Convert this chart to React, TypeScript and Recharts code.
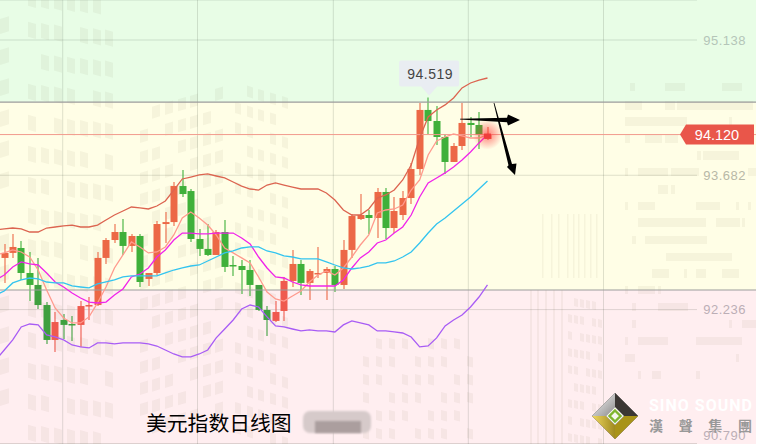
import React from "react";
import { ComposedChart, Bar, Line, XAxis, YAxis, CartesianGrid, ReferenceArea, ReferenceLine, ReferenceDot } from "recharts";

const highs = [92.942,93.050,92.974,92.856,92.792,92.317,92.210,92.189,92.167,92.328,92.371,92.856,93.007,93.157,93.211,93.050,93.050,92.630,93.189,93.286,93.609,93.739,93.534,93.104,93.157,93.093,93.200,92.813,92.770,92.770,92.501,92.274,92.328,92.587,92.878,92.770,92.673,92.910,92.695,92.705,92.985,93.265,93.480,93.308,93.545,93.545,93.448,93.512,93.814,94.460,94.519,94.428,94.126,94.030,94.460,94.309,94.363,94.201];
const lows = [92.523,92.792,92.555,92.328,92.242,91.866,91.780,91.920,91.898,91.834,92.124,92.274,92.727,92.953,92.824,92.856,92.479,92.490,92.608,92.953,93.136,93.448,92.964,92.813,92.813,92.824,92.641,92.598,92.404,92.382,92.221,91.952,92.102,92.114,92.479,92.393,92.339,92.576,92.339,92.425,92.458,92.792,93.200,93.050,93.007,92.996,93.060,93.200,93.373,93.685,94.126,94.008,93.696,93.825,93.954,94.094,93.965,94.062];
const opens = [92.792,92.846,92.899,92.630,92.501,92.285,91.909,92.124,92.081,92.071,92.274,92.285,92.792,92.985,93.071,92.921,93.028,92.566,92.630,93.157,93.178,93.566,93.512,92.996,92.889,92.824,93.071,92.716,92.705,92.662,92.501,92.232,92.114,92.221,92.544,92.727,92.523,92.619,92.630,92.673,92.501,92.878,93.211,93.254,93.222,93.502,93.114,93.254,93.437,93.749,94.385,94.266,94.094,93.825,93.997,94.245,94.223,94.072];
const closes = [92.846,92.910,92.630,92.501,92.285,91.909,92.102,92.071,92.071,92.274,92.285,92.792,92.985,93.071,92.921,93.028,92.533,92.630,93.157,93.178,93.566,93.480,92.996,92.889,92.824,93.071,92.695,92.705,92.662,92.501,92.232,92.124,92.210,92.544,92.727,92.523,92.651,92.630,92.673,92.501,92.878,93.243,93.254,93.222,93.502,93.114,93.297,93.437,93.749,94.385,94.266,94.094,93.825,93.997,94.245,94.223,94.115,94.120];
const upperBand = [93.104,93.114,93.104,93.071,93.071,93.114,93.125,93.136,93.146,93.125,93.125,93.146,93.200,93.254,93.297,93.340,93.330,93.319,93.351,93.405,93.523,93.642,93.663,93.685,93.696,93.674,93.653,93.609,93.566,93.534,93.523,93.577,93.599,93.577,93.555,93.534,93.534,93.534,93.491,93.416,93.308,93.254,93.254,93.319,93.437,93.470,93.523,93.631,93.792,94.083,94.309,94.385,94.439,94.514,94.622,94.675,94.707,94.729];
const ma5 = [92.846,92.878,92.856,92.802,92.662,92.447,92.253,92.146,92.092,92.092,92.157,92.307,92.479,92.684,92.824,92.964,92.910,92.846,92.856,92.910,93.039,93.222,93.286,93.222,93.146,93.039,92.899,92.846,92.792,92.738,92.587,92.425,92.350,92.328,92.382,92.436,92.533,92.608,92.651,92.608,92.684,92.802,92.931,93.039,93.276,93.308,93.319,93.362,93.523,93.631,93.900,94.051,94.094,94.126,94.105,94.083,94.083,94.120];
const ma10 = [92.608,92.695,92.749,92.727,92.716,92.630,92.533,92.479,92.415,92.361,92.317,92.307,92.317,92.393,92.458,92.587,92.619,92.684,92.802,92.878,92.985,93.060,93.060,93.050,93.050,93.060,93.060,93.060,93.007,92.942,92.802,92.684,92.587,92.576,92.533,92.501,92.490,92.490,92.490,92.490,92.555,92.684,92.792,92.856,92.953,92.985,93.060,93.125,93.254,93.448,93.599,93.653,93.707,93.771,93.846,93.932,94.030,94.120];
const ma20 = [92.436,92.523,92.555,92.576,92.566,92.533,92.523,92.523,92.490,92.479,92.469,92.512,92.533,92.555,92.587,92.598,92.598,92.598,92.598,92.630,92.662,92.684,92.705,92.716,92.759,92.802,92.846,92.867,92.899,92.910,92.910,92.867,92.846,92.813,92.802,92.781,92.781,92.781,92.749,92.716,92.684,92.673,92.684,92.705,92.738,92.738,92.759,92.802,92.856,92.953,93.060,93.157,93.222,93.297,93.373,93.448,93.534,93.620];
const lowerBand = [91.801,91.909,92.049,92.081,92.071,91.963,91.941,91.909,91.855,91.834,91.823,91.877,91.877,91.866,91.877,91.877,91.877,91.866,91.844,91.801,91.758,91.726,91.726,91.758,91.801,91.931,92.027,92.124,92.242,92.285,92.264,92.157,92.060,92.049,92.027,92.006,92.017,92.006,92.006,91.995,92.071,92.114,92.092,92.071,92.006,92.006,91.995,91.984,91.941,91.834,91.844,91.931,92.060,92.124,92.178,92.264,92.371,92.501];

// The session just before the first visible candle: its lines run in from the left edge.
const leadIn = { i: -1, upper: 93.093, ma5: 92.824, ma10: 92.555, ma20: 92.393, lower: 91.694 };

const priceTicks = [95.138, 93.682, 92.236, 90.79];
const zoneHigh = 94.47;
const zoneLow = 92.447;
const lastPrice = 94.12;
const peakPrice = 94.519;
const yMin = 90.789;
const yMax = 95.5686;
const slotCount = 90;

const rows = [
  leadIn,
  ...Array.from({ length: slotCount }, (_, i) =>
    i < highs.length
      ? { i, open: opens[i], close: closes[i], high: highs[i], low: lows[i], upper: upperBand[i], ma5: ma5[i], ma10: ma10[i], ma20: ma20[i], lower: lowerBand[i], range: [lows[i], highs[i]] }
      : { i }
  ),
];

const chartMargin = { top: 0, right: -7, bottom: 0, left: -8.46 };

function Candle(props: any) {
  const { x, y, width, height, payload } = props;
  if (payload == null || payload.high == null) return null;
  const k = height / (payload.high - payload.low);
  const top = y + (payload.high - Math.max(payload.open, payload.close)) * k;
  const bot = y + (payload.high - Math.min(payload.open, payload.close)) * k;
  const rising = payload.close >= payload.open;
  const inPink = (payload.open + payload.close) / 2 < zoneLow;
  const c = rising ? (inPink ? "#ef5a4e" : "#ec6846") : inPink ? "#3fa03f" : "#3fb03a";
  const cx = Math.round(x + width / 2);
  return (
    <g>
      <line x1={cx} x2={cx} y1={y} y2={y + height} stroke={c} strokeWidth={1.1} />
      <rect x={cx - 3.5} y={top} width={7} height={Math.max(bot - top, 1.5)} fill={c} />
    </g>
  );
}

function AxisTick(props: any) {
  const { y, payload } = props;
  const fill = payload.value > zoneHigh ? "#b4c5b8" : payload.value > zoneLow ? "#b8b8a6" : "#bcaeb6";
  return (
    <text x={746} y={y} dy={y > 440 ? 8 : 4.5} textAnchor="end" fontSize={13} letterSpacing={0.5} fontFamily="'Liberation Sans', sans-serif" fill={fill}>
      {payload.value.toFixed(3)}
    </text>
  );
}

function Callout(props: any) {
  const { cx, cy } = props;
  const top = cy - 37;
  return (
    <g>
      <path d={`M${cx - 27},${top} h56 a2,2 0 0 1 2,2 v22 a2,2 0 0 1 -2,2 h-20 l-8,9 l-8,-9 h-20 a2,2 0 0 1 -2,-2 v-22 a2,2 0 0 1 2,-2 z`} fill="#e9edf2" />
      <text x={cx + 2} y={top + 18} textAnchor="middle" fontSize={14} letterSpacing={0.5} fontFamily="'Liberation Sans', sans-serif" fill="#444">
        {peakPrice.toFixed(3)}
      </text>
    </g>
  );
}

function PriceTag(props: any) {
  const { cy } = props;
  return (
    <g>
      <path d={`M680,${cy} L686,${cy - 10} H754 V${cy + 10} H686 Z`} fill="#e9564a" />
      <text x={717} y={cy + 5.5} textAnchor="middle" fontSize={14.5} fontFamily="'Liberation Sans', sans-serif" fill="#fff">
        {lastPrice.toFixed(3)}
      </text>
    </g>
  );
}

function Glow(props: any) {
  const { cx, cy } = props;
  return (
    <g>
      <defs>
        <radialGradient id="glow">
          <stop offset="0%" stopColor="#ff2a2a" stopOpacity={0.6} />
          <stop offset="100%" stopColor="#ff2a2a" stopOpacity={0} />
        </radialGradient>
      </defs>
      <circle cx={cx} cy={cy} r={15} fill="url(#glow)" />
      <rect x={cx - 3.5} y={cy - 1} width={7} height={5} fill="#f03c3c" />
    </g>
  );
}

function GridRow(props: any) {
  return <line x1={0} x2={697} y1={props.y1} y2={props.y2} stroke="#40503a" strokeOpacity={0.17} />;
}

// Decorative building watermark behind the chart: [x, y, w, h]
const sideBars = [
  [625,101,17,9],[665,101,10,9],[677,101,76,9],[625,117,62,9],[729,117,3,9],[625,135,5,8],[645,135,17,8],[665,135,13,8],
  [697,151,4,9],[703,151,36,9],[625,168,3,8],[638,168,30,8],[671,168,28,8],[748,168,8,8],[658,185,10,9],[671,185,4,9],
  [625,202,3,8],[638,202,17,8],[696,202,24,8],[736,202,3,8],[748,202,3,8],[638,218,68,9],[716,218,24,9],[742,218,3,9],
  [632,236,4,8],[645,236,62,8],[666,253,66,8],[652,269,17,9],[684,269,3,9],[696,269,10,9],[722,269,17,9],
  [625,286,3,8],[638,286,17,8],[658,286,3,8],[632,303,4,8],[658,303,30,8],[632,320,4,8],[729,320,3,8],[742,320,14,8],
  [625,337,3,8],[638,337,30,8],[696,337,46,8],[625,354,10,8],[736,354,3,8],[638,371,3,8],[652,371,9,8],[696,371,4,8],
  [630,83,5,8],[665,83,20,8],[722,83,20,8],
];
const stripeTop = [542,551,558,567,573,578,584,590,596];
const stripeLow = [530,537,545,553,561];

function Watermark() {
  const shapes: React.ReactNode[] = [];
  const tint = { fill: "#6c5a30", fillOpacity: 0.06 };
  const quad = (x: number, y: number, w: number, h: number, s: number) =>
    shapes.push(<polygon key={shapes.length} points={`${x},${y} ${x + w},${y + s * w} ${x + w},${y + s * w + h} ${x},${y + h}`} {...tint} />);
  const block = (x: number, y: number, w: number, h: number) =>
    shapes.push(<rect key={shapes.length} x={x} y={y} width={w} height={h} {...tint} />);
  const leftCols = [0, 28, 41, 54, 67, 80, 93, 105];
  leftCols.forEach((x, c) => {
    for (let r = 0; r < 15; r++) {
      if ((c * 3 + r * 2) % 7 === 0) continue;
      quad(x, -12 + 31 * r + 0.1 * x, x === 0 ? 9 : 8, 15, x === 0 ? -0.3 : 0.28);
    }
  });
  [140, 152, 165, 178, 190, 203, 215].forEach((x, c) => {
    for (let r = 0; r < 16; r++) {
      if ((c * 2 + r * 3) % 5 === 0) continue;
      quad(x, 110 - 0.28 * (x - 140) + 21 * r, 8, 12, -0.3);
    }
  });
  [235, 247, 258, 270, 282].forEach((x, c) => {
    for (let r = 0; r < 18; r++) {
      if ((c + r * 2) % 6 === 0) continue;
      quad(x, 82 + 0.3 * (x - 235) + 20 * r, 6, 11, 0.3);
    }
  });
  [363, 376, 389, 402, 415, 428, 441, 454, 467].forEach((x, c) => {
    for (let r = 0; r < 6; r++) if ((c + r) % 4 !== 0) quad(x, 338 + 18 * r, 6, 10, 0.25);
  });
  [568, 574, 580, 586, 592, 598].forEach((x, c) => {
    for (let r = 0; r < 9; r++) if ((c + r * 2) % 5 !== 0) quad(x, 297 + 17 * r + c, 4, 8, 0.25);
  });
  stripeTop.forEach((x) => block(x, 214, 1.5, 64));
  stripeLow.forEach((x) => block(x, 290, 2, 154));
  sideBars.forEach(([x, y, w, h]) => block(x, y, w, h));
  return <>{shapes}</>;
}

const lineProps = { strokeWidth: 1.3, dot: false, activeDot: false, isAnimationActive: false } as const;

export default function App() {
  return (
    <div style={{ position: "absolute", left: 0, top: 0, width: 757, height: 444, overflow: "hidden", background: "#fff" }}>
      <div style={{ position: "absolute", left: 0, top: 0 }}>
        <ComposedChart width={756} height={444} data={rows} margin={chartMargin}>
          <XAxis dataKey="i" hide type="category" />
          <YAxis hide orientation="right" width={1} domain={[yMin, yMax]} allowDataOverflow />
          <ReferenceArea y1={zoneHigh} y2={yMax} fill="#e8fde6" fillOpacity={1} ifOverflow="visible" />
          <ReferenceArea y1={zoneLow} y2={zoneHigh} fill="#fffee6" fillOpacity={1} ifOverflow="visible" />
          <ReferenceArea y1={yMin} y2={zoneLow} fill="#ffeef0" fillOpacity={1} ifOverflow="visible" />
        </ComposedChart>
      </div>
      <svg width={756} height={444} style={{ position: "absolute", left: 0, top: 0, pointerEvents: "none" }}>
        <Watermark />
      </svg>
      <div style={{ position: "absolute", left: 0, top: 0 }}>
        <ComposedChart width={756} height={444} data={rows} margin={chartMargin} barCategoryGap={1}>
          <XAxis dataKey="i" hide type="category" />
          <YAxis orientation="right" mirror width={1} domain={[yMin, yMax]} ticks={priceTicks} axisLine={false} tickLine={false} tick={AxisTick} allowDataOverflow />
          <CartesianGrid horizontal={GridRow} verticalPoints={[62.7, 197.5, 333.3, 468.3, 603.5]} stroke="#40503a" strokeOpacity={0.17} />
          <ReferenceLine y={zoneHigh} stroke="#9c9c9c" strokeWidth={1.2} />
          <ReferenceLine y={zoneLow} stroke="#9c9c9c" strokeWidth={1.2} />
          <ReferenceLine y={lastPrice} stroke="#f29a8c" strokeWidth={1} />
          <Bar dataKey="range" barSize={7} shape={Candle} isAnimationActive={false} />
          <Line dataKey="upper" stroke="#dc6450" {...lineProps} />
          <Line dataKey="ma5" stroke="#ff9a8d" {...lineProps} />
          <Line dataKey="ma10" stroke="#f024ea" {...lineProps} />
          <Line dataKey="ma20" stroke="#33c4ef" {...lineProps} />
          <Line dataKey="lower" stroke="#a85cf5" {...lineProps} />
          <ReferenceDot x={57} y={lastPrice} shape={Glow} />
          <ReferenceDot x={50} y={peakPrice} shape={Callout} />
          <ReferenceDot x={80} y={lastPrice} shape={PriceTag} />
        </ComposedChart>
      </div>
      <svg width={757} height={444} style={{ position: "absolute", left: 0, top: 0, pointerEvents: "none" }}>
        <defs>
          <filter id="blur"><feGaussianBlur stdDeviation="1.2" /></filter>
          <linearGradient id="gold" x1="0" y1="0" x2="1" y2="0">
            <stop offset="0%" stopColor="#f0d860" /><stop offset="100%" stopColor="#a08a20" />
          </linearGradient>
          <linearGradient id="silver" x1="0" y1="0" x2="1" y2="1">
            <stop offset="0%" stopColor="#ffffff" /><stop offset="100%" stopColor="#8a8a8a" />
          </linearGradient>
        </defs>
        <polygon points="460,118.8 507,117.8 508,114.5 520,120 508,125.5 507,122.3 460,119.6" fill="#000" />
        <polygon points="493.6,103 494.4,103 512,164 516.5,163.5 515,175 507,167 508.5,165.3" fill="#000" />
        <rect x={303} y={411} width={68} height={22} rx={7} fill="#d6caca" filter="url(#blur)" />
        <rect x={315} y={421} width={46} height={12} fill="#ab9e9e" filter="url(#blur)" />
        <text x={146} y={431} fontSize={20.8} fontFamily="'Noto Sans CJK SC'" fontWeight={400} fill="#000">美元指数日线图</text>
        <polygon points="615,393 638,416 615,439 592,416" fill="#333" />
        <polygon points="615,393 592,416 606,416 615,407" fill="url(#silver)" />
        <polygon points="615,393 638,416 624,416 615,407" fill="#3b3734" />
        <polygon points="592,416 615,439 615,425 606,416" fill="url(#gold)" />
        <polygon points="638,416 615,439 615,425 624,416" fill="#a99318" />
        <polygon points="615,407 624,416 615,425 606,416" fill="#f6f6ee" />
        <polygon points="615,410.5 620.5,416 615,421.5 609.5,416" fill="none" stroke="#7fb52e" strokeWidth={2.4} />
        <text x={649} y={411} fontSize={16} fontWeight={700} fontFamily="Roboto, sans-serif" fill="#fff" textLength={103}>SINO SOUND</text>
        <text x={649} y={431} fontSize={14} fontWeight={700} fontFamily="'Noto Sans CJK TC'" fill="#999" textLength={103}>漢聲集團</text>
      </svg>
    </div>
  );
}
